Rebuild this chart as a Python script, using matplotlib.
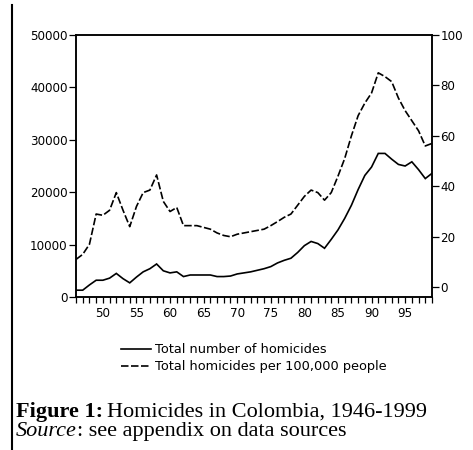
import matplotlib
matplotlib.use("Agg")
import matplotlib.pyplot as plt
from matplotlib.lines import Line2D
import numpy as np

years = list(range(1946, 2000))
total_homicides = [1300, 1300, 2300, 3200, 3200, 3600, 4500, 3500, 2700, 3800,
                   4800, 5400, 6300, 5000, 4600, 4800, 3900, 4200, 4200, 4200,
                   4200, 3900, 3900, 4000, 4400, 4600, 4800, 5100, 5400, 5800,
                   6500, 7000, 7400, 8500, 9800, 10600, 10200, 9300, 11000, 12800,
                   15000, 17500, 20500, 23200, 24800, 27400, 27400, 26300, 25300, 25000,
                   25800, 24300, 22600, 23600]
rate_per_100k = [11, 13, 17, 29, 28.5, 30.5, 37.5, 30.5, 24, 32,
                 37.5, 38.5, 44.5, 34, 30, 31.6, 24.4, 24.4, 24.4, 23.7,
                 23, 21.5, 20.5, 20, 21, 21.5, 22, 22.5, 23, 24.4,
                 26, 27.7, 29, 32.5, 36, 38.5, 37.5, 34.5, 37.5, 44,
                 51, 60, 68, 73, 77, 85, 83.5, 81.5, 75, 70,
                 66, 62, 56, 57]
left_ticks = [0, 10000, 20000, 30000, 40000, 50000]
right_ticks = [0, 20, 40, 60, 80, 100]
x_major = [1950, 1955, 1960, 1965, 1970, 1975, 1980, 1985, 1990, 1995]
x_labels = ["50", "55", "60", "65", "70", "75", "80", "85", "90", "95"]
series_labels = ["Total number of homicides", "Total homicides per 100,000 people"]

W, H = 473, 450
fig = plt.figure(figsize=(W / 100, H / 100), dpi=100)
fig.patch.set_facecolor("white")

ax = fig.add_axes([76 / W, 1 - 297 / H, (432 - 76) / W, (297 - 35) / H])
ax2 = ax.twinx()

tickfont = dict(family="DejaVu Sans", size=8.6)

l1, = ax.plot(years, total_homicides, color="black", lw=1.2, solid_joinstyle="miter")
l2, = ax2.plot(years, rate_per_100k, color="black", lw=1.2, dashes=(4.5, 1.5))

ax.set_xlim(1946, 1999)
ax.set_ylim(0, 50000)
ax2.set_ylim(-3.9, 99.3)

ax.set_xticks(x_major)
ax.set_xticklabels(x_labels, **tickfont)
ax.set_xticks(years, minor=True)
ax.set_yticks(left_ticks)
ax.set_yticklabels([str(v) for v in left_ticks], **tickfont)
ax2.set_yticks(right_ticks)
ax2.set_yticklabels([str(v) for v in right_ticks], **tickfont)

for a in (ax, ax2):
    for s in a.spines.values():
        s.set_linewidth(1.1)
ax.tick_params(axis="x", which="both", direction="out", length=4, width=0.9, pad=3)
ax.tick_params(axis="y", direction="out", length=5, width=0.9, pad=1)
ax2.tick_params(axis="y", direction="out", length=5, width=0.9, pad=1)

leg = fig.legend([l1, l2], series_labels, loc="upper left",
                 bbox_to_anchor=(116 / W, 1 - 338 / H), frameon=False,
                 prop=dict(family="DejaVu Sans", size=9.3), handlelength=2.3,
                 handletextpad=0.3, labelspacing=0.3, borderaxespad=0)

# page border line at left
fig.add_artist(Line2D([12 / W, 12 / W], [0, 1 - 5 / H], transform=fig.transFigure,
                      color="black", lw=1.5))

# caption
renderer = fig.canvas.get_renderer()
cap_size = 16
t1 = fig.text(16 / W, 1 - 417 / H, "Figure 1:", family="Liberation Serif",
              weight="bold", size=cap_size, va="baseline")
bb = t1.get_window_extent(renderer)
fig.text((bb.x1 + 4) / W, 1 - 417 / H, "Homicides in Colombia, 1946-1999",
         family="Liberation Serif", size=cap_size, va="baseline")
t3 = fig.text(16 / W, 1 - 436 / H, "Source", family="Liberation Serif",
              style="italic", size=cap_size, va="baseline")
bb3 = t3.get_window_extent(renderer)
fig.text(bb3.x1 / W, 1 - 436 / H, ": see appendix on data sources",
         family="Liberation Serif", size=cap_size, va="baseline")

fig.savefig("out.png", dpi=100)
